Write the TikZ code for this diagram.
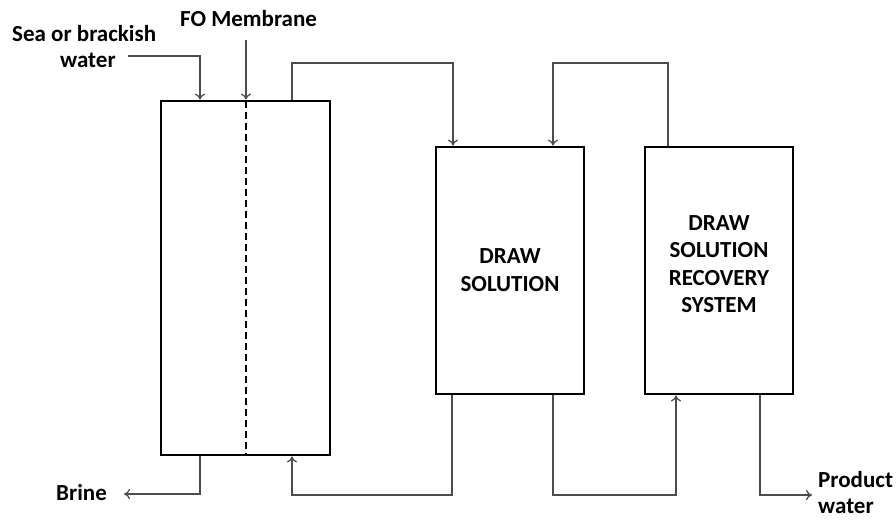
\documentclass[tikz,border=0pt]{standalone}
\usepackage{fontspec}
\setmainfont{Carlito}
\usetikzlibrary{arrows.meta}
\begin{document}
\begin{tikzpicture}[x=1pt,y=-1pt,
  box/.style={draw,line width=2.8pt,inner sep=0pt},
  flow/.style={draw=black!70,line width=1.2pt,-{To[length=6pt,width=10pt]}},
  lbl/.style={font=\bfseries\fontsize{23}{27.5}\selectfont,align=center,inner sep=0pt}]
\useasboundingbox (0,0) rectangle (896,522);
\node[box,minimum width=169pt,minimum height=354pt] (fo) at (245.5,278) {};
\node[box,minimum width=148pt,minimum height=247pt] (ds) at (510,270.5) {};
\node[box,minimum width=148pt,minimum height=247pt] (rec) at (719,270.5) {};
\node[lbl] at (510,270) {DRAW\\SOLUTION};
\node[lbl] at (719,264) {DRAW\\SOLUTION\\RECOVERY\\SYSTEM};
\draw[line width=2.4pt,dash pattern=on 7pt off 4pt] (246,101) -- (246,455);
% top labels
\node[lbl,anchor=base west] (sea) at (12,41) {Sea or brackish};
\node[lbl,anchor=base west] (wat) at (60,67) {water};
\node[lbl,anchor=base west] (fol) at (180,27) {FO Membrane};
\coordinate (seaend) at (128,56);
\draw[flow] (seaend) -- (200,56) -- (fo.north -| 200,0);
\coordinate (fotop) at (246,40);
\draw[flow] (fotop) -- (fo.north -| 246,0);
% top loops
\draw[flow] (fo.north -| 292,0) -- (292,63) -- (453,63) -- (ds.north -| 453,0);
\draw[flow] (rec.north -| 668,0) -- (668,63) -- (553,63) -- (ds.north -| 553,0);
% bottom
\node[lbl,anchor=base west] (brine) at (56,500) {Brine};
\coordinate (brineend) at (124,494);
\draw[flow] (fo.south -| 200,0) -- (200,494) -- (brineend);
\draw[flow] (ds.south -| 452,0) -- (452,495) -- (292,495) -- (fo.south -| 292,0);
\draw[flow] (ds.south -| 553,0) -- (553,495) -- (676,495) -- (rec.south -| 676,0);
\node[lbl,anchor=base west] (prod) at (818,487) {Product};
\node[lbl,anchor=base west] (pw) at (818,513) {water};
\coordinate (prodend) at (812,495);
\draw[flow] (rec.south -| 760,0) -- (760,495) -- (prodend);
\end{tikzpicture}
\end{document}
